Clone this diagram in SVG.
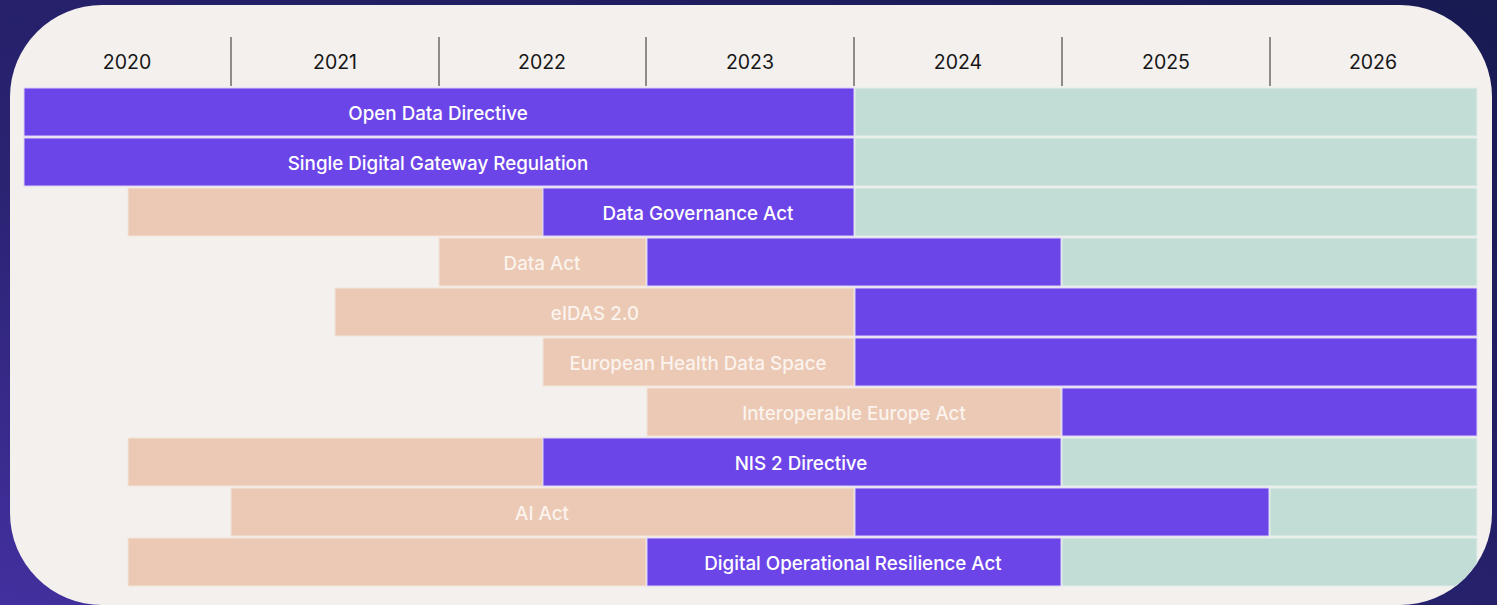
<svg xmlns="http://www.w3.org/2000/svg" width="1497" height="605" viewBox="0 0 1497 605">
<defs>
<linearGradient id="bg" x1="0" y1="1" x2="1" y2="0">
<stop offset="0" stop-color="#43309f"/>
<stop offset="0.35" stop-color="#2a2372"/>
<stop offset="1" stop-color="#181a52"/>
</linearGradient>
<clipPath id="card">
<rect x="10" y="5" width="1482" height="600" rx="92" ry="92"/>
</clipPath>
<style>
.yr{font-family:Inter,"Liberation Sans",sans-serif;font-size:19.5px;fill:#161616;text-anchor:middle}
.tick{stroke:#8e8c8a;stroke-width:2}
.p{fill:#6c45e9;stroke:#d9d0f7;stroke-width:1}
.t{fill:#c2dcd6;stroke:#e3eeeb;stroke-width:1}
.k{fill:#ecc9b4;stroke:#f3e3d9;stroke-width:1}
.lb{font-family:Inter,"Liberation Sans",sans-serif;font-size:18.8px;font-weight:500;fill:#ffffff;text-anchor:middle}
.lk{fill:#ffffff;fill-opacity:0.8}
</style>
</defs>
<rect width="1497" height="605" fill="url(#bg)"/>
<rect x="10" y="5" width="1482" height="600" rx="92" ry="92" fill="#f3f0ed"/>
<g id="header">
<text class="yr" x="127" y="69">2020</text>
<text class="yr" x="335" y="69">2021</text>
<text class="yr" x="542" y="69">2022</text>
<text class="yr" x="750" y="69">2023</text>
<text class="yr" x="958" y="69">2024</text>
<text class="yr" x="1166" y="69">2025</text>
<text class="yr" x="1373" y="69">2026</text>
<line class="tick" x1="231" y1="37" x2="231" y2="86"/>
<line class="tick" x1="439" y1="37" x2="439" y2="86"/>
<line class="tick" x1="646" y1="37" x2="646" y2="86"/>
<line class="tick" x1="854" y1="37" x2="854" y2="86"/>
<line class="tick" x1="1062" y1="37" x2="1062" y2="86"/>
<line class="tick" x1="1270" y1="37" x2="1270" y2="86"/>
</g>
<g id="rows" clip-path="url(#card)">
<g id="row-open-data-directive">
<rect class="p" x="24" y="88" width="830" height="48"/>
<rect class="t" x="855" y="88" width="622" height="48"/>
<text class="lb" x="438" y="120">Open Data Directive</text>
</g>
<g id="row-single-digital-gateway">
<rect class="p" x="24" y="138" width="830" height="48"/>
<rect class="t" x="855" y="138" width="622" height="48"/>
<text class="lb" x="438" y="170">Single Digital Gateway Regulation</text>
</g>
<g id="row-data-governance-act">
<rect class="k" x="128" y="188" width="415" height="48"/>
<rect class="p" x="543" y="188" width="311" height="48"/>
<rect class="t" x="855" y="188" width="622" height="48"/>
<text class="lb" x="698" y="220">Data Governance Act</text>
</g>
<g id="row-data-act">
<rect class="k" x="439" y="238" width="207" height="48"/>
<rect class="p" x="647" y="238" width="414" height="48"/>
<rect class="t" x="1062" y="238" width="415" height="48"/>
<text class="lb lk" x="542" y="270">Data Act</text>
</g>
<g id="row-eidas">
<rect class="k" x="335" y="288" width="519" height="48"/>
<rect class="p" x="855" y="288" width="622" height="48"/>
<text class="lb lk" x="595" y="320">eIDAS 2.0</text>
</g>
<g id="row-ehds">
<rect class="k" x="543" y="338" width="311" height="48"/>
<rect class="p" x="855" y="338" width="622" height="48"/>
<text class="lb lk" x="698" y="370">European Health Data Space</text>
</g>
<g id="row-interoperable-europe-act">
<rect class="k" x="647" y="388" width="414" height="48"/>
<rect class="p" x="1062" y="388" width="415" height="48"/>
<text class="lb lk" x="854" y="420">Interoperable Europe Act</text>
</g>
<g id="row-nis2">
<rect class="k" x="128" y="438" width="415" height="48"/>
<rect class="p" x="543" y="438" width="518" height="48"/>
<rect class="t" x="1062" y="438" width="415" height="48"/>
<text class="lb" x="801" y="470">NIS 2 Directive</text>
</g>
<g id="row-ai-act">
<rect class="k" x="231" y="488" width="623" height="48"/>
<rect class="p" x="855" y="488" width="414" height="48"/>
<rect class="t" x="1270" y="488" width="207" height="48"/>
<text class="lb lk" x="542" y="520">AI Act</text>
</g>
<g id="row-dora">
<rect class="k" x="128" y="538" width="518" height="48"/>
<rect class="p" x="647" y="538" width="414" height="48"/>
<rect class="t" x="1062" y="538" width="415" height="48"/>
<text class="lb" x="853" y="570">Digital Operational Resilience Act</text>
</g>
</g>
<g id="connectors"/>
</svg>
